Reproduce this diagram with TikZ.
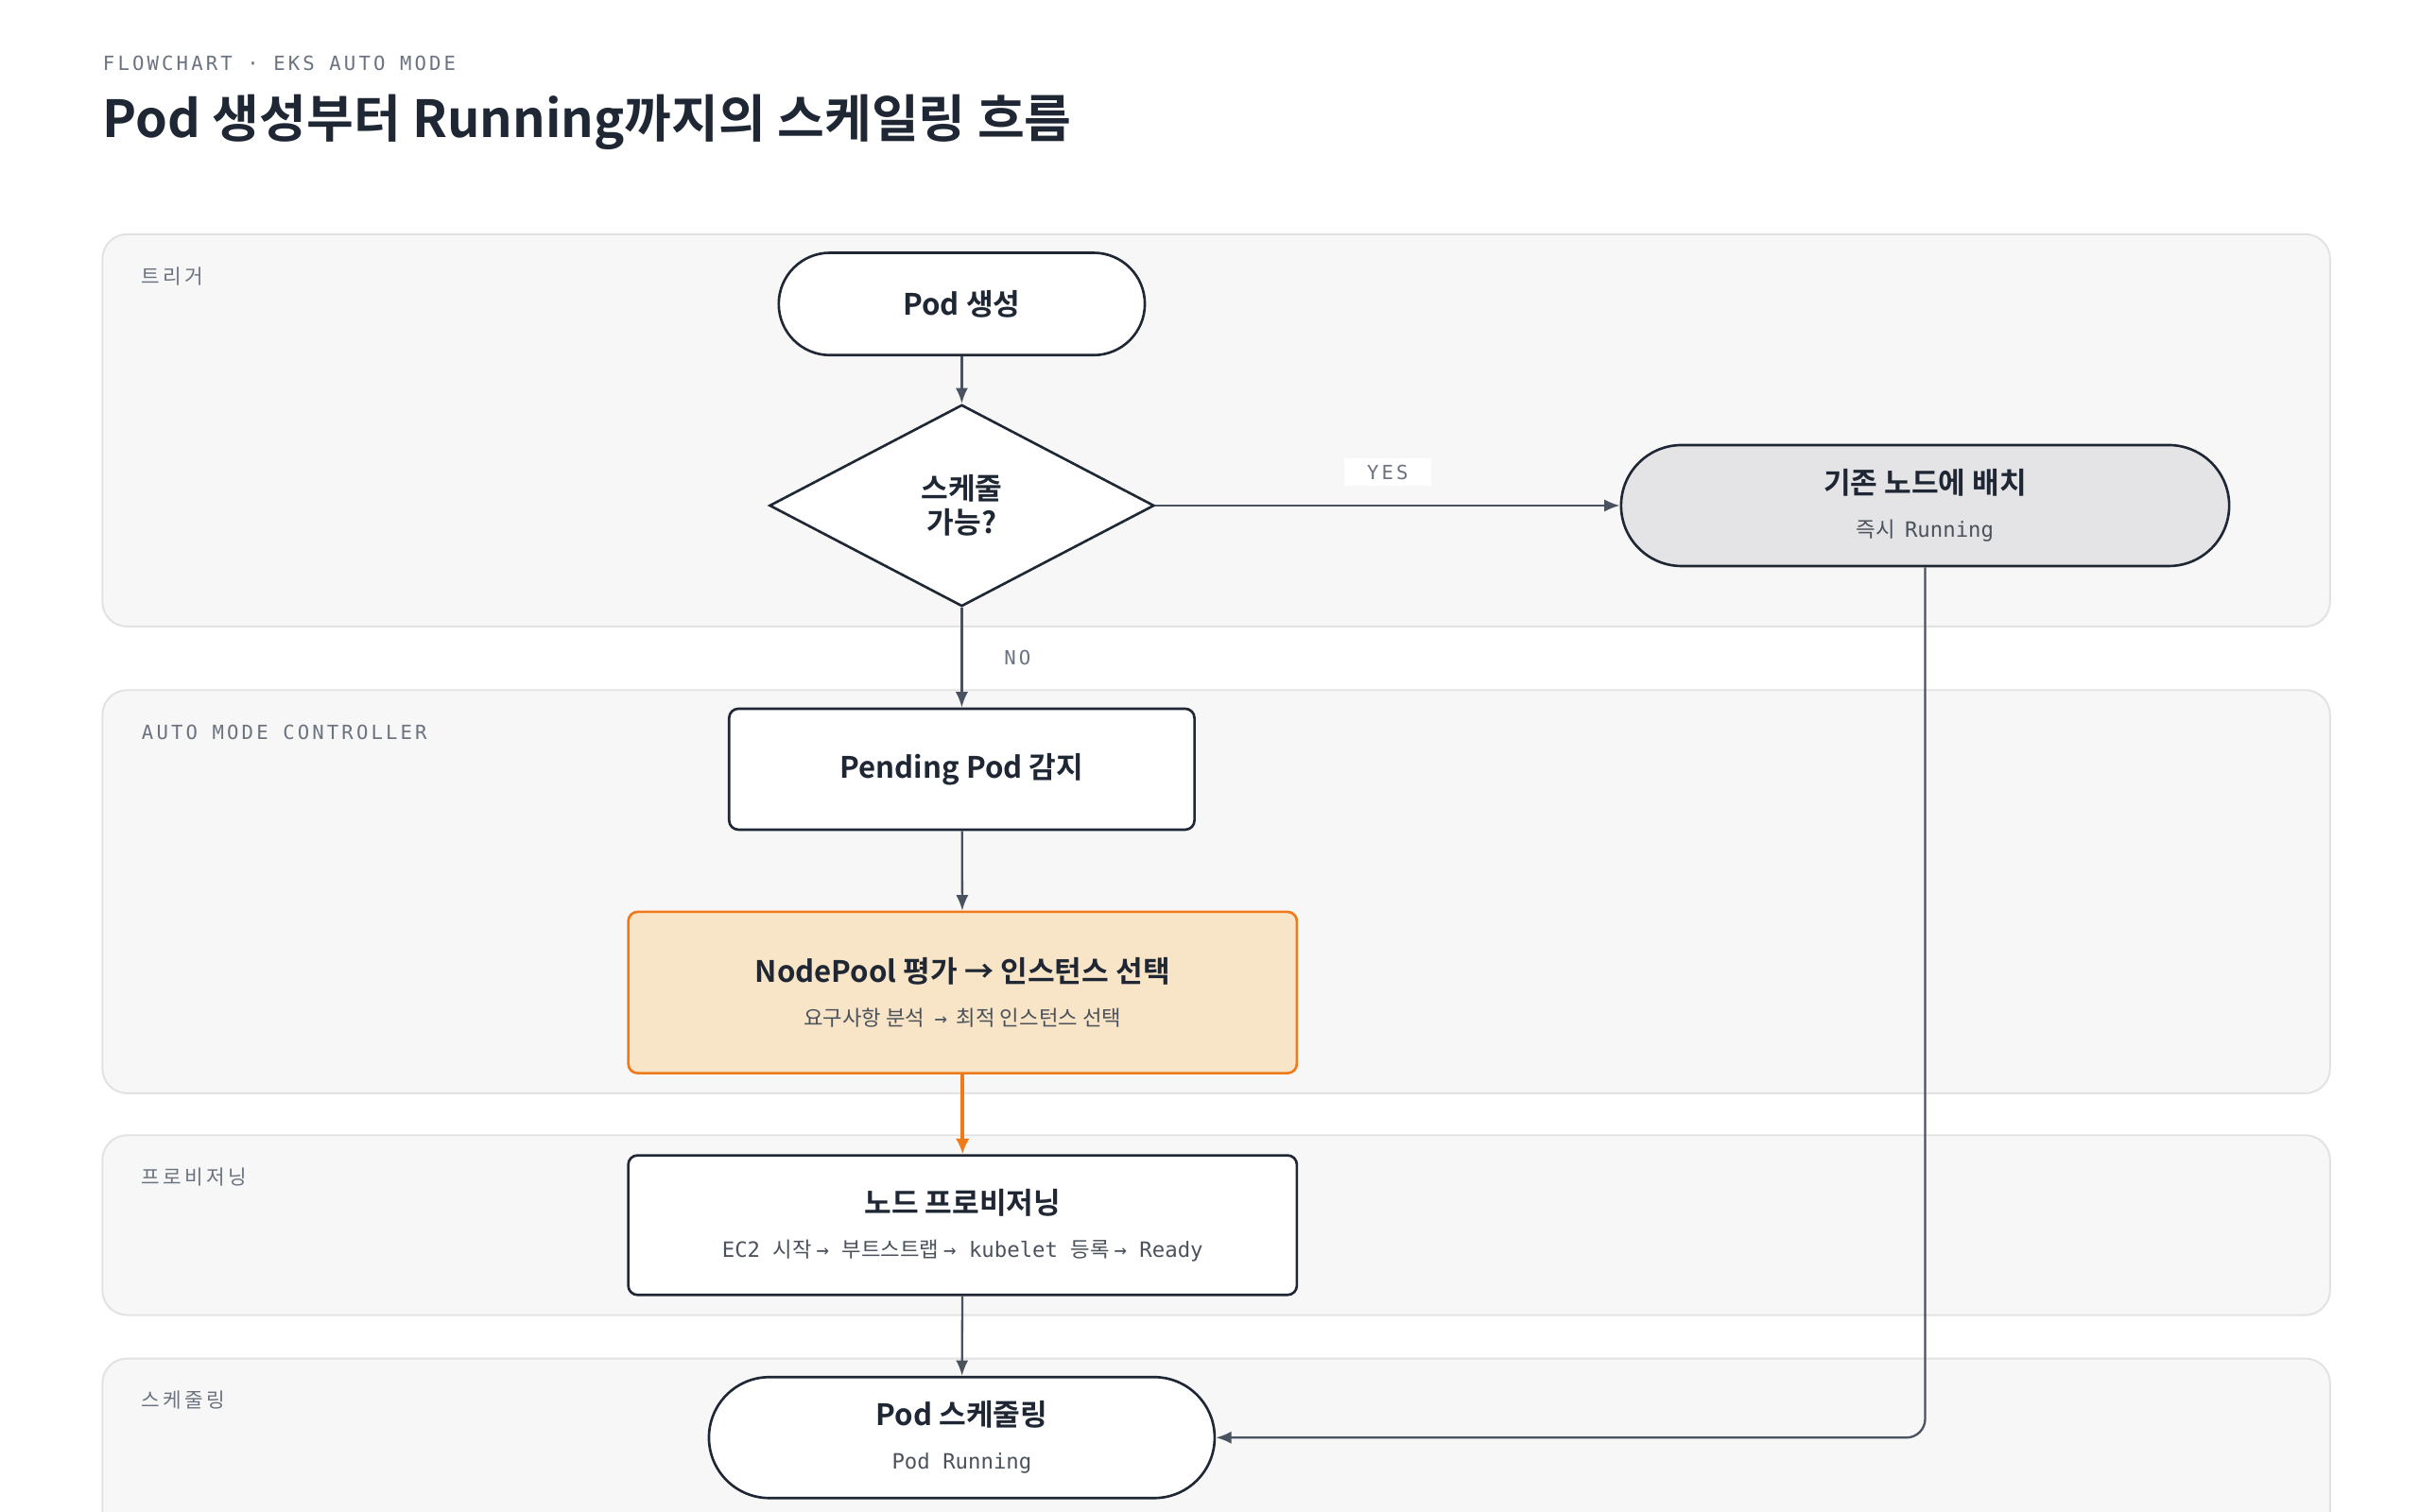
\documentclass[tikz,border=0pt]{standalone}
\usepackage{fontspec}
\setmainfont{Noto Sans CJK KR}
\newfontfamily\kr{Noto Sans CJK KR}
\newfontfamily\krsp{Noto Sans CJK KR}[LetterSpace=15]
\newfontfamily\krb{Noto Sans CJK KR Bold}
\newfontfamily\mono{DejaVu Sans Mono}
\newfontfamily\monosp{DejaVu Sans Mono}[LetterSpace=15]
\usetikzlibrary{shapes.geometric,arrows.meta}
\definecolor{ink}{HTML}{1E2733}
\definecolor{line}{HTML}{4A5260}
\definecolor{lanebg}{HTML}{F7F7F7}
\definecolor{laneln}{HTML}{E2E2E2}
\definecolor{muted}{HTML}{6B7380}
\definecolor{orng}{HTML}{F07A1A}
\definecolor{peach}{HTML}{F8E4C6}
\definecolor{grayn}{HTML}{E4E4E6}
\begin{document}
\begin{tikzpicture}[x=0.5pt,y=-0.5pt,
 lane/.style={draw=laneln,fill=lanebg,rounded corners=8pt,line width=0.6pt},
 lanelbl/.style={anchor=west,inner sep=0pt,text=muted,font=\krsp\fontsize{6.5}{7}\selectfont},
 monolbl/.style={anchor=west,inner sep=0pt,text=muted,font=\monosp\fontsize{6.3}{7}\selectfont},
 box/.style={draw=ink,line width=0.8pt,fill=white,align=center,text=ink,inner sep=0pt},
 big/.style={font=\krb\fontsize{9.5}{12}\selectfont},
 arr/.style={draw=line,line width=0.7pt,-{Latex[length=5pt,width=4pt]}}]
\useasboundingbox[fill=white] (0,0) rectangle (1560,975);
\begin{scope}
\clip (0,0) rectangle (1560,975);
\node[monolbl] (hdr) at (66,41) {FLOWCHART · EKS AUTO MODE};
\node[anchor=west,inner sep=0pt,text=ink,font=\krb\fontsize{16.5}{19}\selectfont] (title) at (66,79) {Pod 생성부터 Running까지의 스케일링 흐름};
% lanes
\path[lane] (66,151) rectangle (1502,404);
\path[lane] (66,445) rectangle (1502,705);
\path[lane] (66,732) rectangle (1502,848);
\path[lane] (66,876) rectangle (1502,990);
\end{scope}
\node[lanelbl] (l1) at (91,178) {트리거};
\node[monolbl] (l2) at (91,472) {AUTO MODE CONTROLLER};
\node[lanelbl] (l3) at (91,759) {프로비저닝};
\node[lanelbl] (l4) at (91,903) {스케줄링};
% nodes
\node[box,big,rounded corners=16.5pt,minimum width=118pt,minimum height=33pt] (pod) at (620,196) {Pod 생성};
\node[box,big,diamond,aspect=1.9,minimum width=124pt,minimum height=65pt,font=\krb\fontsize{9.5}{11}\selectfont] (dec) at (620,326) {스케줄\\가능?};
\node[box,fill=grayn,rounded corners=19.5pt,minimum width=196pt,minimum height=39pt] (exist) at (1241,326) {{\krb\fontsize{9.5}{12}\selectfont 기존 노드에 배치}\\[2pt]{\color{ink!80}{\kr\fontsize{6.8}{8}\selectfont 즉시\ \ }{\mono\fontsize{6.8}{8}\selectfont Running}}};
\node[box,big,rounded corners=3pt,minimum width=150pt,minimum height=39pt] (pend) at (620,496) {Pending Pod 감지};
\node[box,draw=orng,fill=peach,rounded corners=3pt,minimum width=215.5pt,minimum height=52pt] (np) at (620.5,640) {{\krb\fontsize{9.5}{12}\selectfont NodePool 평가 → 인스턴스 선택}\\[2pt]{\kr\fontsize{6.8}{8}\selectfont\color{ink!80} 요구사항\ 분석\ \ {\mono→}\ \ 최적\ 인스턴스\ 선택}};
\node[box,rounded corners=3pt,minimum width=215.5pt,minimum height=45pt] (prov) at (620.5,790) {{\krb\fontsize{9.5}{12}\selectfont 노드 프로비저닝}\\[2pt]{\color{ink!80}{\mono\fontsize{6.8}{8}\selectfont EC2 }{\kr\fontsize{6.8}{8}\selectfont 시작 }{\mono\fontsize{6.8}{8}\selectfont → }{\kr\fontsize{6.8}{8}\selectfont 부트스트랩 }{\mono\fontsize{6.8}{8}\selectfont → kubelet }{\kr\fontsize{6.8}{8}\selectfont 등록 }{\mono\fontsize{6.8}{8}\selectfont → Ready}}};
\node[box,rounded corners=19.5pt,minimum width=163pt,minimum height=39pt] (sched) at (620,927) {{\krb\fontsize{9.5}{12}\selectfont Pod 스케줄링}\\[2pt]{\mono\fontsize{6.8}{8}\selectfont\color{ink!80} Pod Running}};
% edges
\draw[arr] (pod) -- (dec);
\draw[arr] (dec.east) -- node[pos=0.5,above=6pt,fill=white,inner sep=2pt,minimum width=28pt,font=\monosp\fontsize{6.3}{7}\selectfont,text=muted] (yes) {YES} (exist.west);
\draw[arr] (dec.south) -- node[pos=0.5,right=10pt,font=\monosp\fontsize{6.3}{7}\selectfont,text=muted] (no) {NO} (pend.north);
\draw[arr] (pend) -- (np);
\draw[arr,draw=orng,line width=1.1pt,-{Latex[length=5pt,width=4.5pt,color=orng]}] (np) -- (prov);
\draw[arr] (prov) -- (sched);
\draw[arr,rounded corners=6pt] (exist.south) |- (sched.east);
\end{tikzpicture}
\end{document}
